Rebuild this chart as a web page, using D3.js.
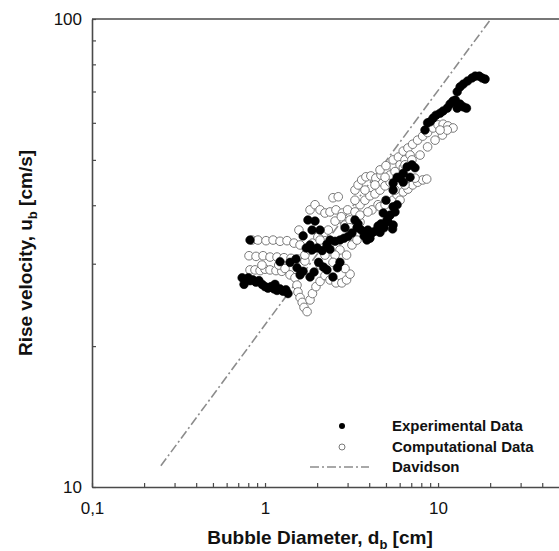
<!DOCTYPE html>
<html>
<head>
<meta charset="utf-8">
<script src="https://cdn.jsdelivr.net/npm/d3@7"></script>
<style>
  html, body { margin: 0; padding: 0; background: #fff; }
  svg { display: block; font-family: "Liberation Sans", Arial, sans-serif; }
</style>
</head>
<body>
<svg id="chart" width="559" height="551"></svg>
<script>
// ---- Data ----
const expD = [0.737,0.766,0.80,0.819,0.852,0.886,0.922,0.961,0.756,1.00,1.04,1.083,1.127,1.173,1.221,1.27,1.32,1.358,1.142,0.819,
  1.221,1.395,1.53,1.594,1.66,1.51,1.66,1.77,1.87,1.945,2.079,1.73,1.82,1.87,2.0,2.14,2.28,2.375,2.54,2.71,2.86,3.02,3.18,2.9,
  1.82,1.92,2.18,2.28,2.47,2.62,2.71,2.04,3.31,3.45,3.6,3.74,3.88,4.04,4.15,3.93,4.32,4.5,4.68,4.87,5.13,5.28,5.5,5.64,5.46,4.82,5.07,
  5.0,5.5,5.8,5.5,5.5,5.8,6.03,6.29,6.62,6.89,7.06,7.36,6.29,8.4,8.7,8.99,9.36,9.73,10.27,10.7,11.3,11.73,12.2,12.6,13.4,14.0,14.6,12.9,
  12.9,13.4,14.0,14.8,15.7,16.4,17.3,18.0,18.7,2.375,3.4,4.62];
const expU = [28.0,27.7,28.0,27.6,27.7,27.4,27.6,27.1,27.1,26.8,26.6,26.8,26.5,26.3,26.5,26.2,26.4,25.9,27.1,33.7,
  30.3,30.2,29.4,28.4,28.9,30.7,34.4,37.2,35.4,37.0,35.4,32.4,32.9,32.1,32.4,32.0,33.0,32.2,33.5,33.7,34.0,34.3,34.9,35.8,
  28.1,28.8,29.5,29.1,28.1,29.4,30.2,30.2,37.2,36.5,35.4,34.4,33.7,34.0,34.9,35.4,35.2,36.1,36.5,35.8,36.9,38.1,36.3,38.7,35.6,38.5,37.2,
  41.0,39.7,40.1,43.1,44.6,45.9,45.7,46.8,48.3,45.9,48.8,48.1,44.8,57.9,60.0,60.3,61.4,62.3,62.9,63.6,64.5,65.8,66.8,67.1,65.8,64.9,64.5,64.5,
  69.9,71.6,72.6,73.7,74.8,75.5,75.5,74.8,74.4,33.7,35.8,35.0];

const compD = [0.84,0.91,1.013,1.113,1.221,1.34,1.47,1.57,
  0.808,0.887,0.974,1.069,1.173,1.287,1.413,1.55,1.70,
  0.819,0.875,0.936,1.0,1.069,1.157,1.25,0.96,1.2,1.305,1.395,
  1.49,1.53,1.55,1.594,1.64,1.68,1.75,1.82,1.88,1.97,2.08,2.22,2.375,2.57,2.78,2.96,3.1,2.9,
  1.70,1.82,1.88,2.02,2.22,1.594,
  1.82,1.945,2.08,2.22,2.375,2.57,2.8,3.0,2.47,2.65,3.31,3.45,3.62,3.83,4.09,4.37,4.68,5.0,
  2.9,3.1,3.31,3.54,3.78,4.04,4.32,4.62,4.94,5.28,5.64,4.15,4.5,3.54,3.18,3.4,2.71,2.54,2.96,
  4.62,5.0,5.5,5.8,6.29,6.7,7.13,7.62,8.15,8.6,
  4.62,5.0,5.5,5.9,6.29,6.7,7.13,7.62,8.15,8.7,9.36,10.0,10.7,11.4,12.2,6.03,6.44,6.89,6.3,5.28,
  3.31,3.78,4.32,4.94,5.64,6.44,7.06,7.87,8.7,9.61,10.6,11.3,10.27,
  3.54,3.93,4.94,5.64,6.44,7.36,6.03,
  2.08,2.32,2.54,2.76,3.1,2.22,2.47,2.08];
const compU = [33.7,33.7,33.6,33.7,33.5,33.6,33.2,35.4,
  31.2,31.1,31.2,31.0,31.0,30.9,30.8,30.7,30.4,
  29.1,29.1,29.0,29.2,29.1,29.0,28.9,29.8,29.8,29.3,28.4,
  28.0,27.0,26.1,25.4,24.8,24.2,23.7,25.1,25.9,26.8,27.5,28.3,27.7,27.3,27.3,27.7,28.5,29.3,
  31.3,32.1,33.2,34.2,35.0,32.9,
  39.1,40.1,39.1,38.5,38.7,39.1,38.5,39.1,41.5,41.7,43.1,44.2,45.3,46.0,46.2,45.7,46.4,47.6,
  36.3,37.2,38.7,40.1,41.0,41.9,42.3,43.1,44.0,44.8,45.7,39.1,40.1,36.8,32.9,33.7,32.1,31.3,31.3,
  39.7,40.5,41.0,42.1,42.7,43.3,44.2,44.8,45.3,45.5,
  47.6,48.6,50.0,50.7,52.2,53.0,54.0,55.1,56.2,57.2,58.5,59.4,59.6,59.1,58.5,48.8,50.0,51.2,48.1,46.4,
  41.0,43.1,44.2,45.9,47.2,48.8,50.0,51.2,53.3,55.1,56.5,57.9,57.9,
  38.1,38.7,40.1,43.1,44.2,45.7,41.0,
  33.7,35.4,37.0,37.8,35.8,31.3,30.2,29.8];

// Davidson correlation: endpoints
const davidsonD = [0.25, 20.2];
const davidsonU = [11.1, 100];

const xMajor = [0.1, 1, 10];
const xMinor = [0.2,0.3,0.4,0.5,0.6,0.7,0.8,0.9,2,3,4,5,6,7,8,9,20,30,40];
const yMajor = [10, 100];
const yMinor = [20,30,40,50,60,70,80,90];

const legendLabels = ["Experimental Data", "Computational Data", "Davidson"];

// ---- Chart ----
const svg = d3.select("#chart");
const x = d3.scaleLog().domain([0.1, 50]).range([92, 559]);
const y = d3.scaleLog().domain([10, 100]).range([487, 19]);
const axisColor = "#4a4a4a";

const plot = svg.append("g");
svg.append("defs").append("clipPath").attr("id", "clip")
  .append("rect").attr("x", 92).attr("y", 19).attr("width", 467).attr("height", 468);

// Davidson line
plot.append("path")
  .datum(davidsonD.map((d, i) => [d, davidsonU[i]]))
  .attr("clip-path", "url(#clip)")
  .attr("d", d3.line().x(p => x(p[0])).y(p => y(p[1])))
  .attr("fill", "none").attr("stroke", "#8c8c8c").attr("stroke-width", 1.6)
  .attr("stroke-dasharray", "9,3,2,3");

// computational (open)
plot.append("g").selectAll("circle")
  .data(compD.map((d, i) => [d, compU[i]]))
  .join("circle")
  .attr("cx", p => x(p[0])).attr("cy", p => y(p[1])).attr("r", 4.3)
  .attr("fill", "#fff").attr("stroke", "#7a7a7a").attr("stroke-width", 1);

// experimental (filled)
plot.append("g").selectAll("circle")
  .data(expD.map((d, i) => [d, expU[i]]))
  .join("circle")
  .attr("cx", p => x(p[0])).attr("cy", p => y(p[1])).attr("r", 4.3)
  .attr("fill", "#000").attr("stroke", "#000").attr("stroke-width", 0.6);

// axes
const fmtX = v => v === 0.1 ? "0,1" : String(v);
const xAxis = d3.axisBottom(x)
  .tickValues(xMajor.concat(xMinor))
  .tickFormat(v => xMajor.includes(v) ? fmtX(v) : "")
  .tickSizeInner(-4).tickSizeOuter(0).tickPadding(12);
const gx = svg.append("g").attr("transform", "translate(0,487)").call(xAxis);
gx.selectAll("text").attr("dy", "0.9em");

const yAxis = d3.axisLeft(y)
  .tickValues(yMajor.concat(yMinor))
  .tickFormat(v => yMajor.includes(v) ? String(v) : "")
  .tickSizeInner(-4).tickSizeOuter(0).tickPadding(10);
const gy = svg.append("g").attr("transform", "translate(92,0)").call(yAxis);

[gx, gy].forEach(g => {
  g.select(".domain").attr("stroke", axisColor).attr("stroke-width", 1.6);
  g.selectAll(".tick line").attr("stroke", axisColor).attr("stroke-width", 1.2);
  g.selectAll("text").attr("fill", "#111").attr("font-size", 17)
    .attr("font-family", "Liberation Sans, Arial, sans-serif");
});
// top frame
svg.append("line").attr("x1", 92).attr("x2", 559).attr("y1", y(100)).attr("y2", y(100))
  .attr("stroke", axisColor).attr("stroke-width", 1.6);

// axis titles
const xt = svg.append("text").attr("x", 320).attr("y", 544).attr("text-anchor", "middle")
  .attr("font-size", 19).attr("font-weight", "bold").attr("fill", "#111");
xt.append("tspan").text("Bubble Diameter, d");
xt.append("tspan").attr("font-size", 13).attr("dy", 5).text("b");
xt.append("tspan").attr("dy", -5).text(" [cm]");

const yt = svg.append("text").attr("transform", "translate(32,253) rotate(-90)")
  .attr("text-anchor", "middle").attr("font-size", 19).attr("font-weight", "bold").attr("fill", "#111");
yt.append("tspan").text("Rise velocity, u");
yt.append("tspan").attr("font-size", 13).attr("dy", 5).text("b");
yt.append("tspan").attr("dy", -5).text(" [cm/s]");

// legend
const lg = svg.append("g");
const ly = [426, 447, 467];
lg.append("circle").attr("cx", 342).attr("cy", ly[0]).attr("r", 3).attr("fill", "#000");
lg.append("circle").attr("cx", 342).attr("cy", ly[1]).attr("r", 3).attr("fill", "#fff")
  .attr("stroke", "#7a7a7a").attr("stroke-width", 1);
lg.append("line").attr("x1", 310).attr("x2", 369).attr("y1", ly[2]).attr("y2", ly[2])
  .attr("stroke", "#8c8c8c").attr("stroke-width", 1.6).attr("stroke-dasharray", "9,3,2,3");
legendLabels.forEach((t, i) => {
  lg.append("text").attr("x", 392).attr("y", ly[i]).attr("dy", "0.35em")
    .attr("font-size", 15).attr("font-weight", "bold").attr("fill", "#111").text(t);
});
</script>
</body>
</html>
